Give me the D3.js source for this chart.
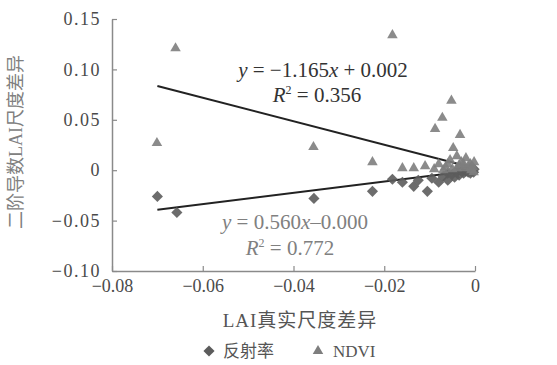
<!DOCTYPE html>
<html>
<head>
<meta charset="utf-8">
<script src="https://cdn.jsdelivr.net/npm/d3@7"></script>
<style>
body { margin: 0; background: #fff; }
text { font-family: "Liberation Serif", "Noto Sans CJK SC", serif; }
</style>
</head>
<body>
<div id="chart"></div>
<script>
// reflectance (diamonds): [x, y]
let reflectance = [
    [-0.0700, -0.026], [-0.0657, -0.042], [-0.0355, -0.028], [-0.0226, -0.021], [-0.0182, -0.009],
    [-0.0160, -0.012], [-0.0135, -0.016], [-0.0125, -0.010], [-0.0105, -0.021], [-0.0095, -0.008],
    [-0.0080, -0.012], [-0.0070, -0.006], [-0.0060, -0.010], [-0.0060, -0.003], [-0.0050, -0.004],
    [-0.0045, -0.007], [-0.0040, -0.002], [-0.0040, -0.0005], [-0.0035, -0.005], [-0.0030, -0.001],
    [-0.0025, -0.003], [-0.0020, 0.000], [-0.0020, -0.001], [-0.0015, -0.002], [-0.0010, 0.001],
    [-0.0010, -0.003], [-0.0008, -0.001], [-0.0005, 0.000], [-0.0003, -0.002], [-0.0002, 0.001]
];
// NDVI (triangles): [x, y]
let ndvi = [
    [-0.0701, 0.027], [-0.0660, 0.121], [-0.0356, 0.023], [-0.0226, 0.008], [-0.0182, 0.134],
    [-0.0052, 0.069], [-0.0072, 0.052], [-0.0088, 0.041], [-0.0033, 0.035], [-0.0048, 0.022],
    [-0.0160, 0.002], [-0.0135, 0.002], [-0.0110, 0.004], [-0.0090, 0.001], [-0.0080, 0.006],
    [-0.0070, 0.000], [-0.0065, 0.003], [-0.0060, 0.006], [-0.0055, 0.010], [-0.0050, 0.001],
    [-0.0040, 0.014], [-0.0040, 0.002], [-0.0035, 0.005], [-0.0030, 0.008], [-0.0025, 0.002],
    [-0.0025, 0.006], [-0.0020, 0.012], [-0.0015, 0.004], [-0.0010, 0.006], [-0.0010, 0.002],
    [-0.0008, 0.000], [-0.0005, 0.003], [-0.0003, -0.002], [-0.0002, 0.008]
];
// trend lines: [slope, intercept, xStart, xEnd]
let ndviFit = [-1.165, 0.002, -0.07, 0];
let reflFit = [0.560, -0.000, -0.07, 0];

let xTicks = [-0.08, -0.06, -0.04, -0.02, 0];
let xTickLabels = ["\u22120.08", "\u22120.06", "\u22120.04", "\u22120.02", "0"];
let yTicks = [0.15, 0.10, 0.05, 0, -0.05, -0.10];
let yTickLabels = ["0.15", "0.10", "0.05", "0", "\u22120.05", "\u22120.10"];

let W = 557, H = 365;
let svg = d3.select('#chart').append('svg').attr('width', W).attr('height', H);

let x = d3.scaleLinear().domain([-0.08, 0]).range([112, 475]);
let y = d3.scaleLinear().domain([-0.10, 0.15]).range([271, 19]);

let axisColor = '#8a8a8a';
let labelColor = '#4a4a4a';

let xAxis = svg.append('g').attr('transform', 'translate(0,' + y(-0.10) + ')')
    .call(d3.axisBottom(x).tickValues(xTicks).tickSize(-5).tickSizeOuter(0)
        .tickFormat((d, i) => xTickLabels[i]));
let yAxis = svg.append('g').attr('transform', 'translate(' + x(-0.08) + ',0)')
    .call(d3.axisLeft(y).tickValues(yTicks).tickSize(-5).tickSizeOuter(0)
        .tickFormat((d, i) => yTickLabels[i]));
[xAxis, yAxis].forEach(function (g) {
    g.select('.domain').attr('stroke', axisColor).attr('stroke-width', 1.5);
    g.selectAll('.tick line').attr('stroke', axisColor).attr('stroke-width', 1.2);
    g.selectAll('.tick text').attr('fill', labelColor).style('font-size', '18px')
        .style('font-family', '"Liberation Serif", serif');
});
xAxis.selectAll('.tick text').attr('dy', '0.95em').attr('y', 4);
yAxis.selectAll('.tick text').attr('x', -11).style('letter-spacing', '1.5px');

// axis titles
svg.append('text').attr('x', 300).attr('y', 327).attr('text-anchor', 'middle')
    .attr('fill', '#555').style('font-size', '19px').style('letter-spacing', '1px')
    .text('LAI真实尺度差异');
svg.append('text').attr('transform', 'translate(22,142) rotate(-90)')
    .attr('text-anchor', 'middle').attr('fill', '#808080').style('font-size', '18px')
    .text('二阶导数LAI尺度差异');

// trend lines
[ndviFit, reflFit].forEach(function (f) {
    svg.append('line')
        .attr('x1', x(f[2])).attr('y1', y(f[0] * f[2] + f[1]))
        .attr('x2', x(f[3])).attr('y2', y(f[0] * f[3] + f[1]))
        .attr('stroke', '#222').attr('stroke-width', 2);
});

// points
let diamond = d3.symbol().type(d3.symbolSquare).size(62);
let triangle = d3.symbol().type(d3.symbolTriangle).size(48);
svg.append('g').selectAll('path').data(reflectance).enter().append('path')
    .attr('d', diamond)
    .attr('transform', d => 'translate(' + x(d[0]) + ',' + y(d[1]) + ') rotate(45)')
    .attr('fill', '#5c5c5c').attr('fill-opacity', 0.9);
svg.append('g').selectAll('path').data(ndvi).enter().append('path')
    .attr('d', triangle)
    .attr('transform', d => 'translate(' + x(d[0]) + ',' + y(d[1]) + ')')
    .attr('fill', '#7e7e7e').attr('fill-opacity', 0.9);

// equations
let eq1 = svg.append('text').attr('x', 323).attr('y', 77).attr('text-anchor', 'middle')
    .attr('fill', '#333').style('font-size', '21px');
eq1.append('tspan').style('font-style', 'italic').text('y');
eq1.append('tspan').text(' = \u22121.165');
eq1.append('tspan').style('font-style', 'italic').text('x');
eq1.append('tspan').text(' + 0.002');
let r1 = svg.append('text').attr('x', 317).attr('y', 102).attr('text-anchor', 'middle')
    .attr('fill', '#333').style('font-size', '21px');
r1.append('tspan').style('font-style', 'italic').text('R');
r1.append('tspan').attr('dy', -8).style('font-size', '12px').text('2');
r1.append('tspan').attr('dy', 8).text(' = 0.356');

let eq2 = svg.append('text').attr('x', 295).attr('y', 229).attr('text-anchor', 'middle')
    .attr('fill', '#808080').style('font-size', '21px');
eq2.append('tspan').style('font-style', 'italic').text('y');
eq2.append('tspan').text(' = 0.560');
eq2.append('tspan').style('font-style', 'italic').text('x');
eq2.append('tspan').text('\u20130.000');
let r2 = svg.append('text').attr('x', 290).attr('y', 255).attr('text-anchor', 'middle')
    .attr('fill', '#808080').style('font-size', '21px');
r2.append('tspan').style('font-style', 'italic').text('R');
r2.append('tspan').attr('dy', -8).style('font-size', '12px').text('2');
r2.append('tspan').attr('dy', 8).text(' = 0.772');

// legend
let legend = svg.append('g').attr('transform', 'translate(0,351)');
legend.append('path').attr('d', diamond).attr('transform', 'translate(209,0) rotate(45)').attr('fill', '#5c5c5c');
legend.append('text').attr('x', 223).attr('y', 6).attr('fill', '#555').style('font-size', '17px').text('反射率');
legend.append('path').attr('d', triangle).attr('transform', 'translate(318,0)').attr('fill', '#7e7e7e');
legend.append('text').attr('x', 333).attr('y', 6).attr('fill', '#555').style('font-size', '17px').text('NDVI');
</script>
</body>
</html>
